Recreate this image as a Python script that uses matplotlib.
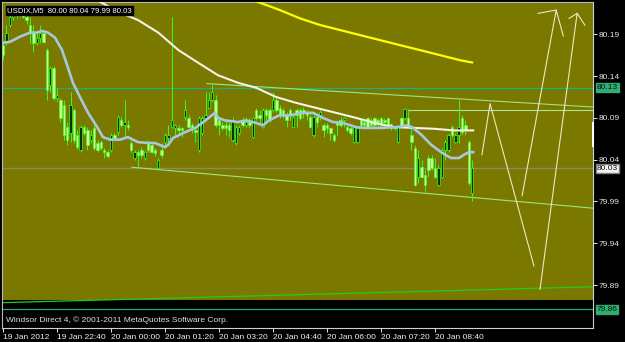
import matplotlib
matplotlib.use('Agg')
import matplotlib.pyplot as plt
from matplotlib.patches import Rectangle
import matplotlib.transforms as mtransforms

# ---------------- data ----------------
opens = [80.177, 80.180, 80.201, 80.211, 80.217, 80.213, 80.215, 80.211, 80.201, 80.192,
         80.180, 80.186, 80.192, 80.171, 80.129, 80.150, 80.114, 80.111, 80.105, 80.079,
         80.072, 80.099, 80.070, 80.052, 80.079, 80.076, 80.064, 80.078, 80.060, 80.061,
         80.052, 80.049, 80.052, 80.070, 80.073, 80.087, 80.081, 80.081, 80.060, 80.042,
         80.049, 80.052, 80.042, 80.060, 80.058, 80.052, 80.030, 80.052, 80.061, 80.066,
         80.079, 80.078, 80.078, 80.078, 80.091, 80.090, 80.081, 80.076, 80.052, 80.072,
         80.090, 80.102, 80.111, 80.111, 80.087, 80.081, 80.081, 80.081, 80.064, 80.060,
         80.072, 80.087, 80.081, 80.085, 80.067, 80.099, 80.093, 80.079, 80.099, 80.099,
         80.099, 80.111, 80.102, 80.099, 80.093, 80.099, 80.079, 80.099, 80.099, 80.099,
         80.097, 80.091, 80.070, 80.091, 80.093, 80.081, 80.081, 80.078, 80.070, 80.085,
         80.087, 80.087, 80.079, 80.078, 80.061, 80.061, 80.087, 80.085, 80.090, 80.087,
         80.090, 80.087, 80.090, 80.087, 80.090, 80.083, 80.079, 80.061, 80.090, 80.090,
         80.090, 80.070, 80.054, 80.019, 80.031, 80.022, 80.042, 80.042, 80.030, 80.010,
         80.019, 80.052, 80.052, 80.079, 80.061, 80.070, 80.090, 80.081, 80.061, 80.000]
highs = [80.181, 80.201, 80.213, 80.221, 80.221, 80.221, 80.219, 80.214, 80.211, 80.201,
         80.192, 80.201, 80.193, 80.174, 80.152, 80.152, 80.126, 80.114, 80.111, 80.085,
         80.121, 80.102, 80.076, 80.081, 80.081, 80.079, 80.076, 80.081, 80.064, 80.064,
         80.054, 80.052, 80.072, 80.072, 80.093, 80.091, 80.111, 80.087, 80.064, 80.052,
         80.052, 80.055, 80.052, 80.064, 80.061, 80.054, 80.042, 80.060, 80.072, 80.081,
         80.211, 80.083, 80.081, 80.079, 80.111, 80.093, 80.084, 80.078, 80.092, 80.092,
         80.121, 80.121, 80.131, 80.117, 80.091, 80.085, 80.087, 80.085, 80.091, 80.081,
         80.081, 80.091, 80.091, 80.090, 80.091, 80.102, 80.099, 80.102, 80.102, 80.102,
         80.121, 80.114, 80.105, 80.102, 80.097, 80.102, 80.093, 80.102, 80.102, 80.103,
         80.099, 80.093, 80.093, 80.093, 80.099, 80.084, 80.084, 80.079, 80.072, 80.087,
         80.091, 80.091, 80.081, 80.079, 80.081, 80.080, 80.090, 80.090, 80.091, 80.090,
         80.091, 80.090, 80.091, 80.090, 80.091, 80.084, 80.080, 80.080, 80.091, 80.102,
         80.101, 80.079, 80.058, 80.052, 80.040, 80.028, 80.046, 80.046, 80.042, 80.034,
         80.054, 80.064, 80.072, 80.081, 80.072, 80.111, 80.093, 80.087, 80.064, 80.040]
lows = [80.159, 80.177, 80.199, 80.207, 80.209, 80.211, 80.209, 80.202, 80.180, 80.169,
        80.177, 80.180, 80.180, 80.111, 80.121, 80.111, 80.109, 80.085, 80.064, 80.058,
        80.061, 80.060, 80.053, 80.049, 80.070, 80.052, 80.060, 80.052, 80.049, 80.052,
        80.042, 80.042, 80.049, 80.064, 80.070, 80.079, 80.067, 80.076, 80.049, 80.040,
        80.030, 80.042, 80.040, 80.049, 80.048, 80.044, 80.028, 80.042, 80.058, 80.061,
        80.078, 80.070, 80.070, 80.067, 80.087, 80.078, 80.072, 80.061, 80.049, 80.070,
        80.087, 80.101, 80.109, 80.079, 80.070, 80.076, 80.070, 80.067, 80.061, 80.058,
        80.070, 80.079, 80.079, 80.078, 80.066, 80.087, 80.084, 80.078, 80.087, 80.085,
        80.097, 80.097, 80.090, 80.090, 80.079, 80.087, 80.078, 80.079, 80.087, 80.090,
        80.087, 80.078, 80.067, 80.079, 80.087, 80.067, 80.072, 80.064, 80.061, 80.070,
        80.079, 80.079, 80.073, 80.070, 80.060, 80.060, 80.078, 80.078, 80.078, 80.079,
        80.079, 80.079, 80.078, 80.079, 80.079, 80.076, 80.076, 80.060, 80.079, 80.087,
        80.079, 80.052, 80.008, 80.012, 80.018, 80.001, 80.019, 80.028, 80.018, 80.008,
        80.018, 80.040, 80.049, 80.067, 80.060, 80.060, 80.070, 80.070, 80.010, 79.990]
closes = [80.165, 80.192, 80.211, 80.217, 80.213, 80.217, 80.211, 80.207, 80.192, 80.180,
          80.186, 80.192, 80.181, 80.123, 80.150, 80.114, 80.117, 80.090, 80.070, 80.064,
          80.105, 80.064, 80.055, 80.079, 80.072, 80.058, 80.070, 80.054, 80.052, 80.054,
          80.049, 80.044, 80.070, 80.066, 80.091, 80.081, 80.085, 80.079, 80.052, 80.049,
          80.046, 80.046, 80.049, 80.052, 80.049, 80.048, 80.040, 80.046, 80.070, 80.070,
          80.087, 80.081, 80.076, 80.076, 80.099, 80.079, 80.078, 80.073, 80.090, 80.090,
          80.093, 80.111, 80.121, 80.081, 80.081, 80.078, 80.078, 80.076, 80.087, 80.079,
          80.079, 80.081, 80.085, 80.081, 80.090, 80.090, 80.090, 80.099, 80.093, 80.087,
          80.111, 80.099, 80.093, 80.093, 80.087, 80.093, 80.091, 80.093, 80.090, 80.097,
          80.093, 80.079, 80.091, 80.085, 80.097, 80.076, 80.078, 80.072, 80.064, 80.081,
          80.081, 80.090, 80.076, 80.072, 80.079, 80.078, 80.081, 80.081, 80.079, 80.081,
          80.081, 80.085, 80.081, 80.085, 80.081, 80.078, 80.078, 80.079, 80.081, 80.101,
          80.081, 80.061, 80.010, 80.042, 80.019, 80.010, 80.028, 80.030, 80.019, 80.030,
          80.052, 80.061, 80.070, 80.070, 80.070, 80.079, 80.073, 80.076, 80.012, 80.030]

fast_ma_idx = [0, 2.1, 5, 8, 10, 11.6, 13.3, 15.4, 17.5, 19, 20.7, 22.8, 25.2, 27.9, 29.6,
               31.7, 34.7, 37, 40, 43, 45, 48, 49, 50.4, 54, 57, 60, 62.8, 63.7, 65.8, 69.6,
               72, 75, 77, 78.8, 81.8, 84.7, 88.9, 91.9, 94.8, 97.8, 100.7, 104.6, 107, 112,
               116.7, 119.7, 121.2, 123.9, 126.8, 129.8, 132.7, 135.1, 136.6, 138.1, 139.3]
fast_ma = [80.180, 80.181, 80.187, 80.192, 80.192, 80.194, 80.192, 80.186, 80.171, 80.153,
           80.132, 80.115, 80.096, 80.079, 80.067, 80.064, 80.064, 80.067, 80.061, 80.060,
           80.060, 80.055, 80.058, 80.066, 80.073, 80.078, 80.087, 80.096, 80.090, 80.087,
           80.085, 80.087, 80.084, 80.081, 80.087, 80.093, 80.093, 80.096, 80.096, 80.090,
           80.085, 80.084, 80.079, 80.078, 80.078, 80.079, 80.081, 80.079, 80.070, 80.058,
           80.049, 80.042, 80.042, 80.046, 80.049, 80.049]

mid_ma_idx = [27, 28.7, 34, 40, 46, 52, 57.8, 63.7, 69.6, 75, 80.9, 86.8, 92.7, 98.7, 104.6,
              110, 115.9, 121.8, 127.7, 133.6, 139.3]
mid_ma = [80.233, 80.229, 80.217, 80.207, 80.192, 80.171, 80.156, 80.141, 80.132, 80.126,
          80.115, 80.108, 80.102, 80.096, 80.090, 80.084, 80.079, 80.078, 80.077, 80.075, 80.075]

slow_ma_idx = [73, 75.3, 82, 88, 94, 99.9, 105.8, 111.7, 117.6, 123.6, 129.5, 135.4, 139.3]
slow_ma = [80.233, 80.229, 80.219, 80.209, 80.201, 80.195, 80.189, 80.183, 80.177, 80.171,
           80.165, 80.159, 80.156]

x_tick_idx = [0, 16, 32, 48, 64, 80, 96, 112, 128]
x_tick_labels = ["19 Jan 2012", "19 Jan 22:40", "20 Jan 00:00", "20 Jan 01:20",
                 "20 Jan 03:20", "20 Jan 04:40", "20 Jan 06:00", "20 Jan 07:20", "20 Jan 08:40"]
y_ticks = [80.19, 80.14, 80.09, 80.04, 79.99, 79.94, 79.89]

level_top = 80.126
level_bid = 80.03
level_bottom = 79.861
level_res = 80.10
level_res_start = 120.3
panel_floor = 79.8725

upper_channel_x = [60.4, 174.8]
upper_channel_y = [80.131, 80.103]
lower_channel_x = [38.2, 174.8]
lower_channel_y = [80.031, 79.982]
support_x = [-0.3, 174.8]
support_y = [79.869, 79.888]

proj_a_x = [141.9, 144.3, 157.3]
proj_a_y = [80.046, 80.107, 79.913]
proj_b_x = [153.8, 163.9, 166.0]
proj_b_y = [79.997, 80.219, 80.188]
proj_b_tick_x = [158.5, 163.9]
proj_b_tick_y = [80.215, 80.219]
proj_c_x = [159.1, 170.1, 172.4]
proj_c_y = [79.885, 80.215, 80.201]
proj_c_tick_x = [167.7, 170.1]
proj_c_tick_y = [80.209, 80.215]

header_text = "USDIX,M5  80.00 80.04 79.99 80.03"
footer_text = "Windsor Direct 4, \u00a9 2001-2011 MetaQuotes Software Corp."

# ---------------- figure ----------------
plt.rcParams['font.family'] = ['Liberation Sans', 'DejaVu Sans']
W, H = 625, 342
fig = plt.figure(figsize=(W / 100, H / 100), dpi=100, facecolor='black')
ax = fig.add_axes([2 / W, 1 - 328 / H, 591 / W, 326 / H])
ax.set_facecolor('black')
ax.set_xlim(-0.3, 174.8)
ax.set_ylim(79.8387, 80.2286)

olive = '#7b7800'
ax.add_patch(Rectangle((-0.3, panel_floor), 175.1, 80.2286 - panel_floor,
                       facecolor=olive, edgecolor='none', zorder=0))

# horizontal levels
ax.axhline(level_top, color='#1fae86', lw=0.9, zorder=1)
ax.axhline(level_bid, color='#8c8a66', lw=1.0, zorder=1)
ax.axhline(level_bottom, color='#1fae6a', lw=0.9, zorder=1)
ax.plot([level_res_start, 174.8], [level_res, level_res], color='#a8e890', lw=0.8, zorder=1)

# channel lines
ax.plot(upper_channel_x, upper_channel_y, color='#9ce87a', lw=0.8, zorder=1)
ax.plot(lower_channel_x, lower_channel_y, color='#9ce87a', lw=0.8, zorder=1)
ax.plot(support_x, support_y, color='#22cc22', lw=0.9, zorder=1)

# candles
idx = list(range(len(closes)))
wick_col = '#33ff22'
ax.vlines(idx, lows, highs, color=wick_col, lw=0.7, zorder=2)
for i in idx:
    o, c = opens[i], closes[i]
    bull = c >= o
    bottom = min(o, c)
    h = max(abs(c - o), 0.0008)
    ax.add_patch(Rectangle((i - 0.36, bottom), 0.72, h,
                           facecolor='#063000' if bull else '#c8ff9a',
                           edgecolor='#44ff22', lw=0.5, zorder=3))

# moving averages
ax.plot(slow_ma_idx, slow_ma, color='#ffff00', lw=1.6, zorder=4, solid_capstyle='butt')
ax.plot(mid_ma_idx, mid_ma, color='#f4f4ea', lw=1.5, zorder=4)
ax.plot(fast_ma_idx, fast_ma, color='#a6c8da', lw=1.9, zorder=5)

# projection lines
pc = '#ece8c4'
for xs, ys in [(proj_a_x, proj_a_y), (proj_b_x, proj_b_y), (proj_b_tick_x, proj_b_tick_y),
               (proj_c_x, proj_c_y), (proj_c_tick_x, proj_c_tick_y)]:
    ax.plot(xs, ys, color=pc, lw=0.8, zorder=6)

# axes styling
for s in ['left', 'top']:
    ax.spines[s].set_color('#b8b8b8')
    ax.spines[s].set_linewidth(0.8)
for s in ['right', 'bottom']:
    ax.spines[s].set_color('#d0d0d0')
    ax.spines[s].set_linewidth(0.8)

ax.yaxis.tick_right()
ax.set_yticks(y_ticks)
ax.set_yticklabels([f"{v:.2f}" for v in y_ticks])
ax.tick_params(axis='y', colors='#e8e8e8', length=3, width=0.7, pad=1, labelsize=6)
ax.set_xticks(x_tick_idx)
ax.set_xticklabels(x_tick_labels, ha='left')
ax.tick_params(axis='x', colors='#e8e8e8', length=3, width=0.7, pad=1.5, labelsize=6)
for lab in ax.get_xticklabels():
    lab.set_color('#f0f0f0')

# right-side price boxes
btr = mtransforms.blended_transform_factory(ax.transAxes, ax.transData)
ax.text(1.006, level_top, "80.13", transform=btr, fontsize=6, color='#101010',
        va='center', ha='left', zorder=10, clip_on=False,
        bbox=dict(boxstyle='square,pad=0.12', fc='#2fae74', ec='#2fae74'))
ax.text(1.006, level_bid, "80.03", transform=btr, fontsize=6, color='#101010',
        va='center', ha='left', zorder=10, clip_on=False,
        bbox=dict(boxstyle='square,pad=0.12', fc='#f4f4f4', ec='#808080'))
ax.text(1.006, level_bottom, "79.86", transform=btr, fontsize=6, color='#101010',
        va='center', ha='left', zorder=10, clip_on=False,
        bbox=dict(boxstyle='square,pad=0.12', fc='#2fae74', ec='#2fae74'))

# white marker on the right axis
fig.patches.append(Rectangle((591.5 / W, 1 - 147 / H), 2.5 / W, 25 / H,
                             transform=fig.transFigure, facecolor='white',
                             edgecolor='none', zorder=10))

# header and footer
ax.text(5 / 591, 1 - 8.5 / 326, header_text, transform=ax.transAxes, fontsize=5.6,
        color='white', va='center', ha='left', zorder=10,
        bbox=dict(boxstyle='square,pad=0.15', fc='black', ec='black'))
ax.text(4 / 591, 8 / 326, footer_text, transform=ax.transAxes, fontsize=6,
        color='#e0e0e0', va='center', ha='left', zorder=10)

fig.savefig('out.png', dpi=100, facecolor='black')
